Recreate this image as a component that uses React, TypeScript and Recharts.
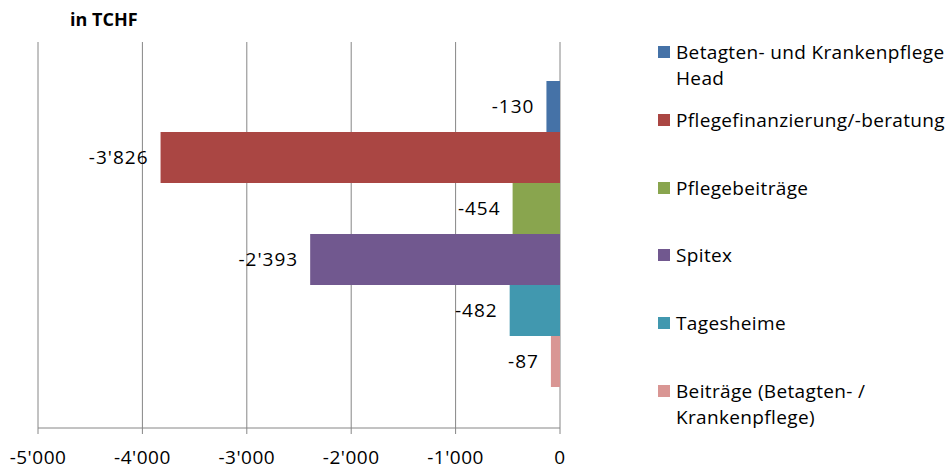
import React from 'react';
import { BarChart, Bar, XAxis, YAxis, CartesianGrid, LabelList } from 'recharts';

const seriesNames = [
  'Betagten- und Krankenpflege Head',
  'Pflegefinanzierung/-beratung',
  'Pflegebeiträge',
  'Spitex',
  'Tagesheime',
  'Beiträge (Betagten- / Krankenpflege)',
];
const seriesValues = [-130, -3826, -454, -2393, -482, -87];
const seriesColors = ['#4572A7', '#AA4643', '#89A54E', '#71588F', '#4198AF', '#D99694'];
const xTicks = [-5000, -4000, -3000, -2000, -1000, 0];
const categories = ['Total'];
const unitLabel = 'in TCHF';

const FONT = '"Open Sans", sans-serif';
const GRID = '#868686';

const data = categories.map((c) => {
  const row: Record<string, any> = { cat: c };
  seriesValues.forEach((v, i) => {
    row[`s${i}`] = v;
  });
  return row;
});

const fmt = (v: number) => {
  const s = Math.abs(v).toString().replace(/\B(?=(\d{3})+(?!\d))/g, "'");
  return (v < 0 ? '-' : '') + s;
};

const BarLabel = (props: any) => {
  const vb = props.viewBox && props.viewBox.width !== undefined ? props.viewBox : props;
  const x = Number(vb.x);
  const y = Number(vb.y);
  const w = Number(vb.width);
  const h = Number(vb.height);
  const left = Math.min(x, x + w);
  return (
    <text
      x={left - 12}
      y={y + h / 2}
      textAnchor="end"
      dominantBaseline="central"
      fontSize={19}
      fontFamily={FONT}
      fill="#000"
      style={{ letterSpacing: '1px' }}
    >
      {fmt(Number(props.value))}
    </text>
  );
};

export default function App() {
  return (
    <div style={{ position: 'absolute', left: 0, top: 0, width: 950, height: 470, background: '#fff' }}>
      <BarChart
        layout="vertical"
        width={950}
        height={470}
        data={data}
        margin={{ top: 42, right: 390, bottom: 12, left: 38 }}
        barCategoryGap="10.1%"
        barGap={0}
      >
        <CartesianGrid horizontal={false} vertical={true} stroke={GRID} strokeWidth={1} />
        <XAxis
          type="number"
          domain={[-5000, 0]}
          ticks={xTicks}
          tickFormatter={fmt}
          stroke={GRID}
          tickSize={6}
          tickMargin={17}
          height={30}
          interval={0}
          tick={{ fill: '#000', fontSize: 19, fontFamily: FONT, style: { letterSpacing: '0.5px' } }}
        />
        <YAxis type="category" dataKey="cat" hide width={0} />
        {seriesNames.map((n, i) => (
          <Bar key={n} dataKey={`s${i}`} name={n} fill={seriesColors[i]} isAnimationActive={false}>
            <LabelList dataKey={`s${i}`} content={BarLabel} />
          </Bar>
        ))}
      </BarChart>
      <div
        style={{
          position: 'absolute',
          left: 70,
          top: 6,
          fontFamily: FONT,
          fontWeight: 700,
          fontSize: 18,
          lineHeight: '26px',
          color: '#000',
        }}
      >
        {unitLabel}
      </div>
      <div style={{ position: 'absolute', left: 0, top: 0 }}>
        {seriesNames.map((n, i) => (
          <div
            key={n}
            style={{
              position: 'absolute',
              left: 658,
              top: 39 + i * 67.8,
              width: 292,
            }}
          >
            <div
              style={{
                position: 'absolute',
                left: 0,
                top: 7,
                width: 12,
                height: 12,
                background: seriesColors[i],
              }}
            />
            <div
              style={{
                position: 'absolute',
                left: 18,
                top: 0,
                width: 276,
                fontFamily: FONT,
                fontSize: 19,
                letterSpacing: '0.35px',
                lineHeight: '26px',
                color: '#000',
                whiteSpace: 'normal',
              }}
            >
              {n}
            </div>
          </div>
        ))}
      </div>
    </div>
  );
}
